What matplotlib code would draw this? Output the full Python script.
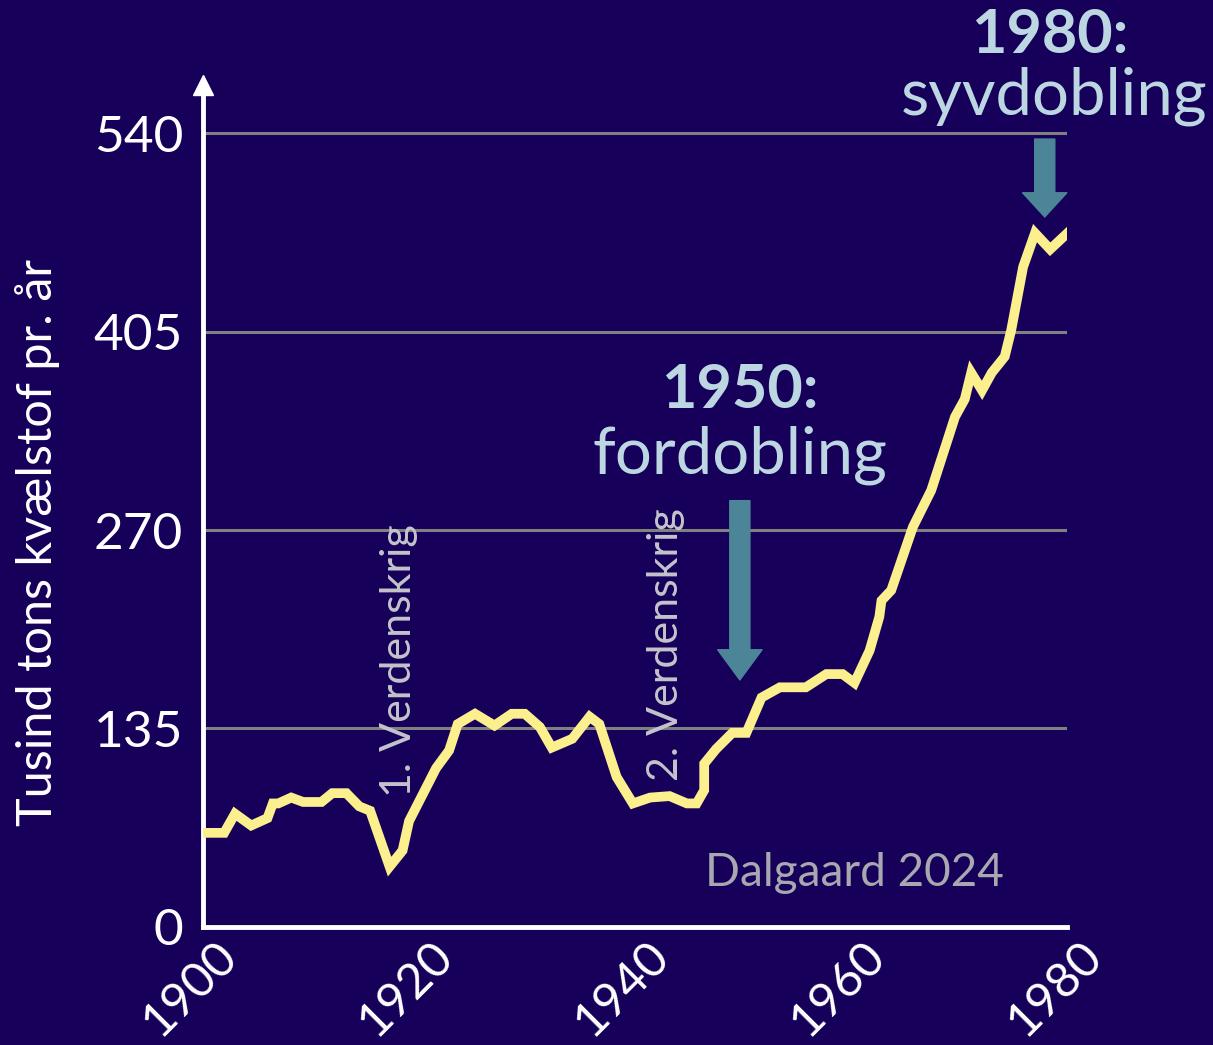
import matplotlib.pyplot as plt
from matplotlib.transforms import ScaledTranslation

# Data (tusind tons kvælstof pr. år)
years = [1900, 1902, 1903, 1904.5, 1906, 1906.5, 1907, 1908.2, 1909.3, 1911,
         1912, 1913.3, 1914.5, 1915.5, 1917.3, 1918.5, 1919.1, 1921.6, 1922.8,
         1923.6, 1925.2, 1927, 1928.6, 1929.8, 1931.2, 1932.3, 1934.2, 1935.8,
         1936.7, 1938.3, 1939.8, 1941.4, 1943.2, 1944.8, 1945.7, 1946.4, 1946.4,
         1947.5, 1949, 1950.3, 1951.7, 1953.4, 1955.8, 1957.7, 1959.2, 1960.3,
         1961.7, 1962.6, 1962.8, 1963.7, 1965.7, 1967.4, 1969.6, 1970.5, 1971.1,
         1972.1, 1973, 1974.2, 1974.8, 1975.9, 1977, 1978.4, 1980]
values = [64, 64, 77, 69, 74, 84, 84, 88, 85, 85,
          91, 91, 82, 79, 41, 52, 72, 108, 120,
          138, 145, 137, 145, 145, 136, 122, 128, 143,
          138, 102, 84, 88, 89, 84, 84, 93, 111,
          121, 132, 132, 156, 163, 163, 172, 172, 166,
          188, 211, 222, 229, 272, 297, 347, 359, 377,
          365, 377, 388, 406, 449, 472, 461, 472]

yticks = [0, 135, 270, 405, 540]
xticks = [1900, 1920, 1940, 1960, 1980]

bg = '#16005a'
plt.rcParams['font.family'] = ['Lato', 'DejaVu Sans']

fig = plt.figure(figsize=(12.13, 10.45), dpi=100)
fig.patch.set_facecolor(bg)
ax = fig.add_axes([0.167, 0.113, 0.713, 0.806])
ax.set_facecolor(bg)

ax.plot(years, values, color='#fcf08e', lw=7, solid_joinstyle='miter', zorder=3)

ax.set_xlim(1900, 1980)
ax.set_ylim(0, 573)
ax.set_yticks(yticks)
ax.set_xticks(xticks)
ax.set_yticklabels([str(t) for t in yticks], fontsize=37, color='white')
ax.set_xticklabels([str(t) for t in xticks], fontsize=35, color='white',
                   rotation=45, ha='right', va='center', rotation_mode='anchor')
ax.tick_params(axis='y', length=0, pad=14)
ax.tick_params(axis='x', length=0, pad=20)
# flyt årstallene lidt til højre og op
skub = ScaledTranslation(0.27, 0.06, fig.dpi_scale_trans)
for lab in ax.get_xticklabels():
    lab.set_transform(lab.get_transform() + skub)

for t in yticks[1:]:
    ax.axhline(t, color='#808080', lw=2.2, zorder=1)

for s in ['top', 'right']:
    ax.spines[s].set_visible(False)
for s in ['left', 'bottom']:
    ax.spines[s].set_color('white')
    ax.spines[s].set_linewidth(3.5)
# pil på y-aksen
ax.plot(0, 1, marker='^', color='white', markersize=15, clip_on=False,
        transform=ax.transAxes, zorder=5)

fig.text(38 / 1213, 1 - 542 / 1045, 'Tusind tons kvælstof pr. år', rotation=90,
         ha='center', va='center', fontsize=35, color='white')

# krige
ax.text(1918.2, 181, '1. Verdenskrig', rotation=90, ha='center', va='center',
        fontsize=31, color='#c4c4cc')
ax.text(1942.9, 192, '2. Verdenskrig', rotation=90, ha='center', va='center',
        fontsize=31, color='#c4c4cc')

# annotationer
col = '#bcd6e2'
ax.text(1949.7, 365, '1950:', ha='center', va='center', fontsize=44,
        fontweight='bold', color=col, clip_on=False)
ax.text(1949.7, 321, 'fordobling', ha='center', va='center', fontsize=47,
        color=col, clip_on=False)
ax.text(1978.4, 607, '1980:', ha='center', va='center', fontsize=44,
        fontweight='bold', color=col, clip_on=False)
ax.text(1978.8, 565, 'syvdobling', ha='center', va='center', fontsize=47,
        color=col, clip_on=False)

acol = '#4c8597'
ax.annotate('', xy=(1949.7, 168), xytext=(1949.7, 290),
            arrowprops=dict(arrowstyle='simple,head_width=2.2,head_length=1.5,tail_width=1',
                            mutation_scale=14.5, color=acol, shrinkA=0, shrinkB=0))
ax.annotate('', xy=(1977.9, 483), xytext=(1977.9, 536),
            arrowprops=dict(arrowstyle='simple,head_width=2.2,head_length=1.2,tail_width=1',
                            mutation_scale=14.5, color=acol, shrinkA=0, shrinkB=0))

ax.text(1960.3, 37, 'Dalgaard 2024', ha='center', va='center', fontsize=33,
        color='#a8a8b0')

fig.savefig('out.png', dpi=100, facecolor=bg)
